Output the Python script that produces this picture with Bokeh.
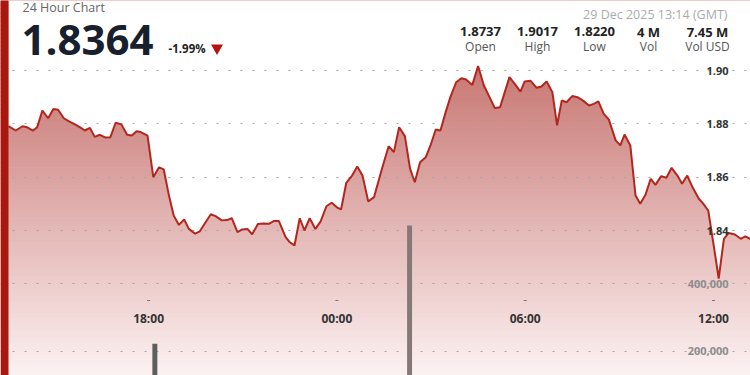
import numpy as np
from bokeh.plotting import figure
from bokeh.models import Range1d
from bokeh.core.properties import value
from bokeh.embed import file_html
from bokeh.resources import INLINE

# ---------------- data ----------------
# minutes relative to 29 Dec 2025 00:00 (GMT)
times_min = [-628, -614, -601, -592, -581, -573, -563, -552, -542, -533,
             -522, -512, -499, -490, -482, -472, -463, -453, -443, -433,
             -423, -412, -401, -392, -383, -375, -362, -351, -340, -331,
             -321, -312, -302, -292, -283, -271, -262, -251, -241, -232,
             -220, -210, -201, -190, -181, -171, -162, -151, -140, -130,
             -120, -111, -98, -90, -81, -71, -62, -52, -41, -31,
             -20, -10, 0, 8, 18, 29, 39, 49, 60, 71,
             87, 99, 109, 119, 130, 140, 149, 159, 170, 179,
             189, 198, 208, 217, 228, 238, 247, 259, 270, 281,
             291, 302, 312, 321, 330, 340, 351, 359, 370, 382,
             391, 401, 412, 421, 430, 439, 450, 460, 470, 482,
             491, 500, 510, 520, 533, 542, 550, 561, 571, 580,
             590, 600, 609, 620, 630, 640, 651, 660, 670, 680,
             692, 700, 710, 721, 730, 740, 749, 761, 772, 781,
             794]
prices = [1.8791, 1.8775, 1.8791, 1.8787, 1.8775, 1.8787, 1.8850, 1.8821, 1.8856, 1.8853,
          1.8821, 1.8809, 1.8796, 1.8786, 1.8775, 1.8785, 1.8751, 1.8759, 1.8749, 1.8750,
          1.8804, 1.8798, 1.8759, 1.8756, 1.8772, 1.8769, 1.8756, 1.8600, 1.8637, 1.8629,
          1.8531, 1.8456, 1.8421, 1.8441, 1.8406, 1.8388, 1.8397, 1.8431, 1.8461, 1.8454,
          1.8438, 1.8439, 1.8446, 1.8394, 1.8404, 1.8406, 1.8386, 1.8424, 1.8426, 1.8425,
          1.8436, 1.8436, 1.8375, 1.8356, 1.8344, 1.8446, 1.8400, 1.8446, 1.8406, 1.8434,
          1.8491, 1.8504, 1.8487, 1.8479, 1.8579, 1.8606, 1.8640, 1.8606, 1.8509, 1.8525,
          1.8637, 1.8716, 1.8694, 1.8787, 1.8754, 1.8631, 1.8581, 1.8656, 1.8675, 1.8719,
          1.8779, 1.8775, 1.8844, 1.8900, 1.8956, 1.8971, 1.8966, 1.8946, 1.9017, 1.8944,
          1.8904, 1.8859, 1.8862, 1.8919, 1.8975, 1.8950, 1.8921, 1.8959, 1.8962, 1.8935,
          1.8940, 1.8959, 1.8919, 1.8794, 1.8888, 1.8881, 1.8904, 1.8900, 1.8888, 1.8869,
          1.8875, 1.8884, 1.8838, 1.8816, 1.8738, 1.8719, 1.8760, 1.8719, 1.8531, 1.8500,
          1.8534, 1.8594, 1.8571, 1.8604, 1.8598, 1.8635, 1.8606, 1.8575, 1.8606, 1.8562,
          1.8519, 1.8502, 1.8475, 1.8337, 1.8220, 1.8369, 1.8391, 1.8385, 1.8369, 1.8378,
          1.8364]

vol_times_min = [-348, 139]
vol_values = [222000, 573000]

price_ticks = [1.84, 1.86, 1.88, 1.90]
price_tick_labels = ["1.84", "1.86", "1.88", "1.90"]
vol_ticks = [200000, 400000]
vol_tick_labels = ["200,000", "400,000"]
time_ticks_min = [-360, 0, 360, 720]
time_tick_labels = ["18:00", "00:00", "06:00", "12:00"]

chart_title = "24 Hour Chart"
last_price = "1.8364"
change_pct = "-1.99%"
timestamp = "29 Dec 2025 13:14 (GMT)"
stat_values = ["1.8737", "1.9017", "1.8220", "4 M", "7.45 M"]
stat_labels = ["Open", "High", "Low", "Vol", "Vol USD"]

# ---------------- layout ----------------
W, H = 750, 375
X0, X1 = -643.1, 790.8
Y0, Y1 = 1.78563, 1.92625
V0, V1 = 127600, 1240400

def dx(px):
    return X0 + px / W * (X1 - X0)

def dy(py):
    return Y1 - py / H * (Y1 - Y0)

FONT = value("Open Sans")

p = figure(width=W, height=H, output_backend="svg", toolbar_location=None,
           x_axis_type=None, y_axis_type=None,
           x_range=Range1d(X0, X1), y_range=Range1d(Y0, Y1),
           min_border=0, outline_line_color=None,
           background_fill_color="white", border_fill_color="white")
p.extra_y_ranges = {"vol": Range1d(V0, V1)}

# gradient under the line
n = 90
edges = np.linspace(Y0, Y1, n + 1)
top_c = np.array([189, 93, 88])
bot_c = np.array([252, 242, 242])
cols = []
for i in range(n):
    f = (i + 0.5) / n  # 0 at bottom, 1 at top
    c = bot_c + (top_c - bot_c) * f
    cols.append("#%02x%02x%02x" % tuple(int(round(v)) for v in c))
p.quad(left=X0, right=X1, bottom=edges[:-1], top=edges[1:],
       fill_color=cols, line_color=cols, line_width=1)

# white mask above the line
p.varea(x=times_min, y1=prices, y2=Y1 + 0.01, fill_color="white")

# dotted grid
p.hspan(y=price_ticks, line_color="#a5a5a5", line_dash="2 10", line_width=1)
p.hspan(y=vol_ticks, y_range_name="vol", line_color="#a5a5a5", line_dash="2 10", line_width=1)

# volume bars
p.vbar(x=vol_times_min, top=vol_values, bottom=0, width=9.5, y_range_name="vol",
       fill_color=["#5e5e5e", "#857877"], line_color=None)

# price line
p.line(times_min, prices, line_color="#b3261e", line_width=2)

# left red bar
p.quad(left=X0, right=dx(8), bottom=Y0, top=Y1, fill_color="#a8180f", line_color=None)

# right axis labels
p.text(x=[dx(728)] * len(price_ticks), y=price_ticks, text=price_tick_labels,
       text_align="right", text_baseline="middle", text_font=FONT,
       text_font_style="bold", text_font_size=value("11px"), text_color="#333333")
p.text(x=[dx(728)] * len(vol_ticks), y=vol_ticks, text=vol_tick_labels, y_range_name="vol",
       text_align="right", text_baseline="middle", text_font=FONT,
       text_font_style="bold", text_font_size=value("11px"), text_color="#8c8c8c")

# time labels + tiny tick marks
p.rect(x=time_ticks_min, y=[dy(300)] * len(time_ticks_min), width=3, height=1,
       width_units="screen", height_units="screen", fill_color="#777777", line_color=None)
p.text(x=time_ticks_min, y=[dy(318)] * len(time_ticks_min), text=time_tick_labels,
       text_align="center", text_baseline="middle", text_font=FONT,
       text_font_style="bold", text_font_size=value("12px"), text_color="#333333")

# header
p.text(x=[dx(22)], y=[dy(7)], text=[chart_title], text_align="left",
       text_baseline="middle", text_font=FONT, text_font_size=value("12.5px"),
       text_color="#666666")
p.text(x=[dx(21)], y=[dy(39)], text=[last_price], text_align="left",
       text_baseline="middle", text_font=FONT, text_font_style="bold",
       text_font_size=value("42px"), text_color="#17202c")
p.text(x=[dx(168)], y=[dy(47.5)], text=[change_pct], text_align="left",
       text_baseline="middle", text_font=FONT, text_font_style="bold",
       text_font_size=value("11.5px"), text_color="#222222")
p.scatter(x=[dx(216.5)], y=[dy(47.5)], marker="inverted_triangle", size=12,
          fill_color="#b5140e", line_color=None)

p.text(x=[dx(727)], y=[dy(13.5)], text=[timestamp], text_align="right",
       text_baseline="middle", text_font=FONT, text_font_size=value("12.5px"),
       text_color="#ababab")
stat_x = [dx(v) for v in (480, 537, 594, 648, 707)]
p.text(x=stat_x, y=[dy(31)] * 5, text=stat_values, text_align="center",
       text_baseline="middle", text_font=FONT, text_font_style="bold",
       text_font_size=value("13px"), text_color="#222222")
p.text(x=stat_x, y=[dy(45.5)] * 5, text=stat_labels, text_align="center",
       text_baseline="middle", text_font=FONT, text_font_size=value("12px"),
       text_color="#555555")

open("out.html", "w").write(file_html(p, INLINE))
